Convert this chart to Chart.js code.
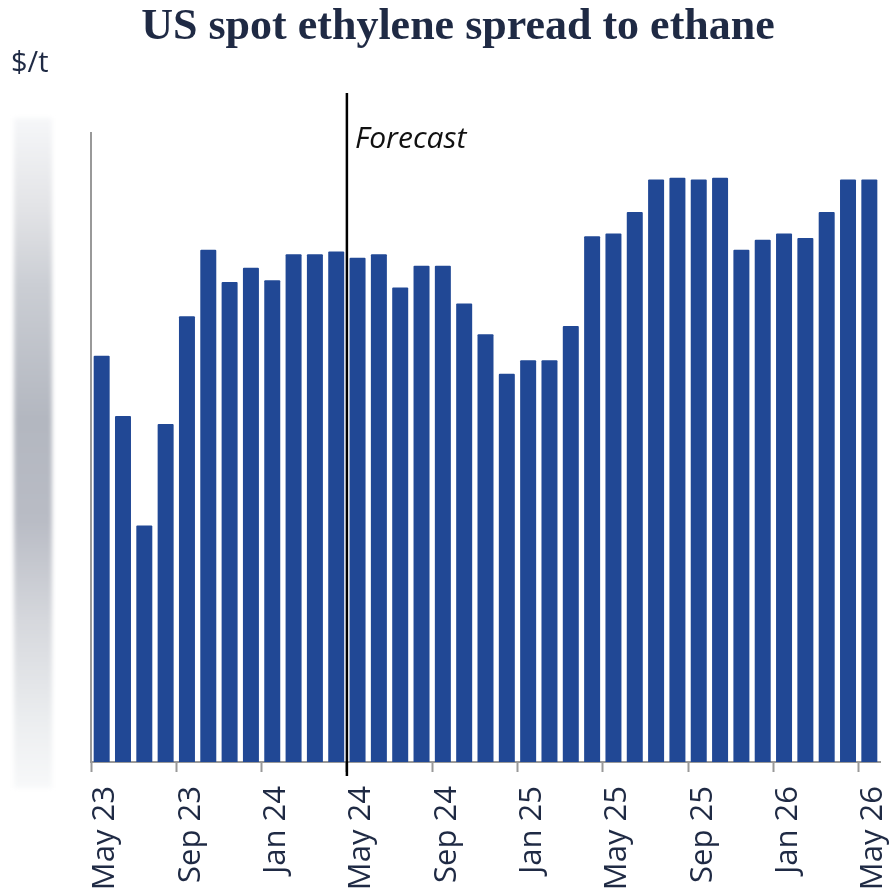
<!DOCTYPE html>
<html>
<head>
<meta charset="utf-8">
<script src="https://cdn.jsdelivr.net/npm/chart.js@4.4.0/dist/chart.umd.min.js"></script>
<style>
  html, body { margin: 0; padding: 0; background: #fff; }
  #wrap { width: 889px; height: 894px; }
</style>
</head>
<body>
<div id="wrap"><canvas id="chart"></canvas></div>
<script>
// monthly spread, $/t (y-axis labels are hidden in the source, values estimated)
const months = [
  'May 23', 'Jun 23', 'Jul 23', 'Aug 23', 'Sep 23', 'Oct 23', 'Nov 23', 'Dec 23',
  'Jan 24', 'Feb 24', 'Mar 24', 'Apr 24', 'May 24', 'Jun 24', 'Jul 24', 'Aug 24',
  'Sep 24', 'Oct 24', 'Nov 24', 'Dec 24', 'Jan 25', 'Feb 25', 'Mar 25', 'Apr 25',
  'May 25', 'Jun 25', 'Jul 25', 'Aug 25', 'Sep 25', 'Oct 25', 'Nov 25', 'Dec 25',
  'Jan 26', 'Feb 26', 'Mar 26', 'Apr 26', 'May 26'
];
const spread = [
  452, 385, 263, 376, 496, 570, 534, 550,
  536, 565, 565, 568, 561, 565, 528, 552,
  552, 510, 476, 432, 447, 447, 485, 585,
  588, 612, 648, 650, 648, 650, 570, 581,
  588, 583, 612, 648, 648
];
const forecastStart = 'May 24';
const yMin = 0;
const yMax = 700;

const navy = '#1f2a44';

// blurred gray strip over the hidden y labels, "$/t" unit and forecast marker
const extras = {
  id: 'extras',
  beforeDraw(chart) {
    const ctx = chart.ctx;
    ctx.save();
    const g = ctx.createLinearGradient(0, 117, 0, 790);
    g.addColorStop(0, '#f6f7f9');
    g.addColorStop(0.14, '#e2e3e6');
    g.addColorStop(0.25, '#cbced4');
    g.addColorStop(0.45, '#b3b7c0');
    g.addColorStop(0.6, '#b9bcc5');
    g.addColorStop(0.75, '#d6d8dd');
    g.addColorStop(0.9, '#eceef0');
    g.addColorStop(1, '#f8f9fa');
    ctx.filter = 'blur(2px)';
    ctx.fillStyle = g;
    ctx.fillRect(14, 118, 38, 670);
    ctx.filter = 'none';
    ctx.fillStyle = navy;
    ctx.font = '29px "Open Sans"';
    ctx.textBaseline = 'alphabetic';
    ctx.fillText('$/t', 11, 72);
    ctx.restore();
  },
  afterDatasetsDraw(chart) {
    const ctx = chart.ctx;
    const x = chart.scales.x;
    const i = months.indexOf(forecastStart);
    const px = (x.getPixelForValue(i - 1) + x.getPixelForValue(i)) / 2;
    ctx.save();
    ctx.strokeStyle = '#000';
    ctx.lineWidth = 2.5;
    ctx.beginPath();
    ctx.moveTo(px, 93);
    ctx.lineTo(px, chart.chartArea.bottom + 14);
    ctx.stroke();
    ctx.fillStyle = '#111';
    ctx.font = 'italic 30px "Open Sans"';
    ctx.fillText('Forecast', px + 8, 148);
    ctx.restore();
  }
};

new Chart(document.getElementById('chart'), {
  type: 'bar',
  data: {
    labels: months,
    datasets: [{
      label: 'Spread',
      data: spread,
      backgroundColor: '#214895',
      borderRadius: 1,
      barPercentage: 0.75,
      categoryPercentage: 1
    }]
  },
  options: {
    responsive: true,
    maintainAspectRatio: false,
    animation: false,
    layout: { padding: { left: 36, right: 9, top: 0, bottom: 0 } },
    plugins: {
      legend: { display: false },
      tooltip: { enabled: false },
      title: {
        display: true,
        text: 'US spot ethylene spread to ethane',
        color: navy,
        font: { family: '"Liberation Serif"', size: 44, weight: 'bold', lineHeight: 1.2 },
        padding: { top: 1, bottom: 79 }
      }
    },
    scales: {
      x: {
        grid: {
          offset: true,
          drawOnChartArea: false,
          tickLength: 10,
          tickWidth: 2,
          tickColor: (c) => (c.index % 4 === 0 ? '#999' : 'rgba(0,0,0,0)')
        },
        border: { display: true, color: '#999', width: 2 },
        ticks: {
          autoSkip: false,
          minRotation: 90,
          maxRotation: 90,
          padding: 14,
          labelOffset: 4,
          color: navy,
          font: { family: '"Open Sans"', size: 31 },
          callback: (v, i) => (i % 4 === 0 ? months[i] : '')
        },
        afterFit: (s) => {
          s.height = 132;
          s.paddingLeft = 0;
          s.paddingRight = 0;
        }
      },
      y: {
        min: yMin,
        max: yMax,
        grid: { display: false },
        border: { display: true, color: '#999', width: 2 },
        ticks: { display: false },
        afterFit: (s) => {
          s.width = 55;
          s.paddingTop = 0;
          s.paddingBottom = 0;
        }
      }
    }
  },
  plugins: [extras]
});
</script>
</body>
</html>
